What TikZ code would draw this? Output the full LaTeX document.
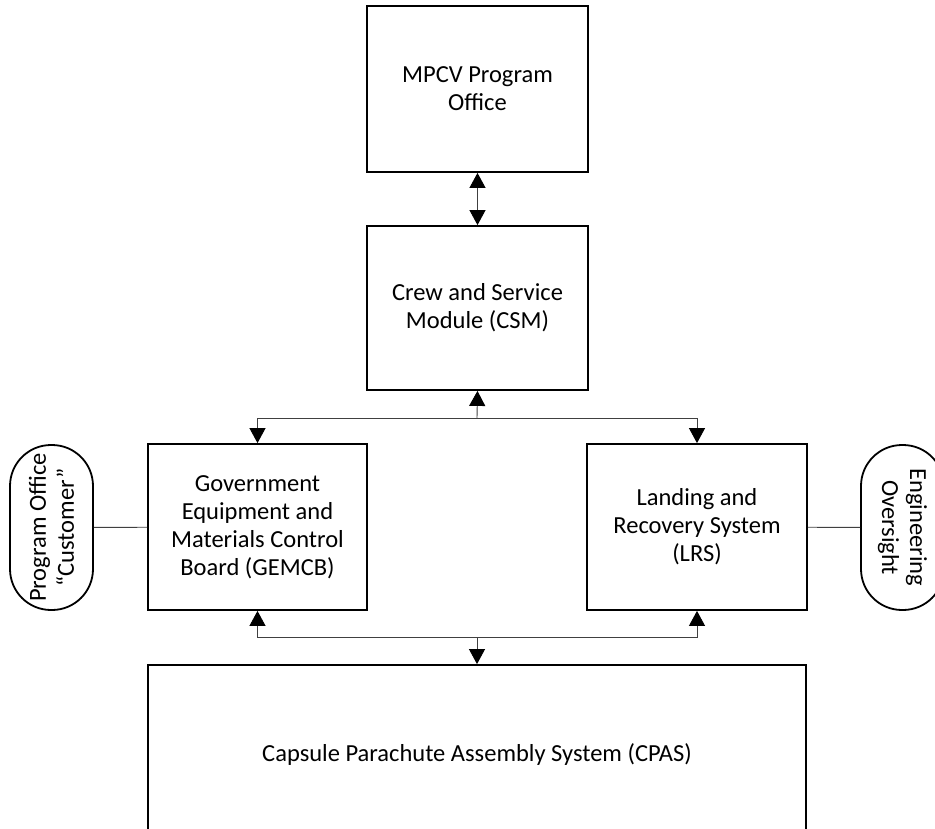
\documentclass[tikz,border=0pt]{standalone}
\usepackage{fontspec}
\setmainfont{Carlito}
\usetikzlibrary{arrows.meta,calc}

\begin{document}
\begin{tikzpicture}[
      x=1pt, y=-1pt,
      font=\fontsize{24.5}{28}\selectfont,
      blk/.style={draw=black, line width=1.8pt, align=center, inner sep=0pt},
      pill/.style={draw=black, line width=1.8pt, align=center, minimum width=165pt,
                   minimum height=83pt, rounded corners=41pt, inner sep=0pt},
      conn/.style={draw=black!75, line width=0.9pt},
      tip/.style={-{Triangle[width=16pt,length=15pt,color=black]}},
      both/.style={{Triangle[width=16pt,length=15pt,color=black]}-{Triangle[width=16pt,length=15pt,color=black]}}
    ]
      \useasboundingbox (0,0) rectangle (935,828);
      \clip (0,0) rectangle (935,828);

      % boxes
      \node[blk, minimum width=221pt, minimum height=166pt] (mpcv) at (477.5,89) {MPCV Program\\Office};
      \node[blk, minimum width=221pt, minimum height=164pt] (csm) at (477.5,308) {Crew and Service\\Module (CSM)};
      \node[blk, minimum width=219pt, minimum height=166pt] (gemcb) at (257.5,527) {Government\\Equipment and\\Materials Control\\Board (GEMCB)};
      \node[blk, minimum width=220pt, minimum height=166pt] (lrs) at (697,527) {Landing and\\Recovery System\\(LRS)};
      \node[blk, minimum width=658pt, minimum height=180pt] (cpas) at (477,755) {Capsule Parachute Assembly System (CPAS)};

      % side ovals
      \node[pill, rotate=90] (cust) at (51.5,527.5) {Program Office\\“Customer”};
      \node[pill, rotate=-90] (eng) at (902.5,527.5) {Engineering\\Oversight};

      % bus points
      \coordinate (tb) at (477,418);
      \coordinate (bb) at (477,637);

      % connectors
      \draw[conn, both] (mpcv.south) -- (csm.north);
      \draw[conn, tip] (tb) -- (csm.south);
      \draw[conn, tip] (tb) -| (gemcb.north);
      \draw[conn, tip] (tb) -| (lrs.north);
      \draw[conn, tip] (bb) -| (gemcb.south);
      \draw[conn, tip] (bb) -| (lrs.south);
      \draw[conn, tip] (bb) -- (cpas.north);
      \draw[conn] (cust) -- (gemcb);
      \draw[conn] (lrs) -- (eng);
    \end{tikzpicture}
\end{document}
